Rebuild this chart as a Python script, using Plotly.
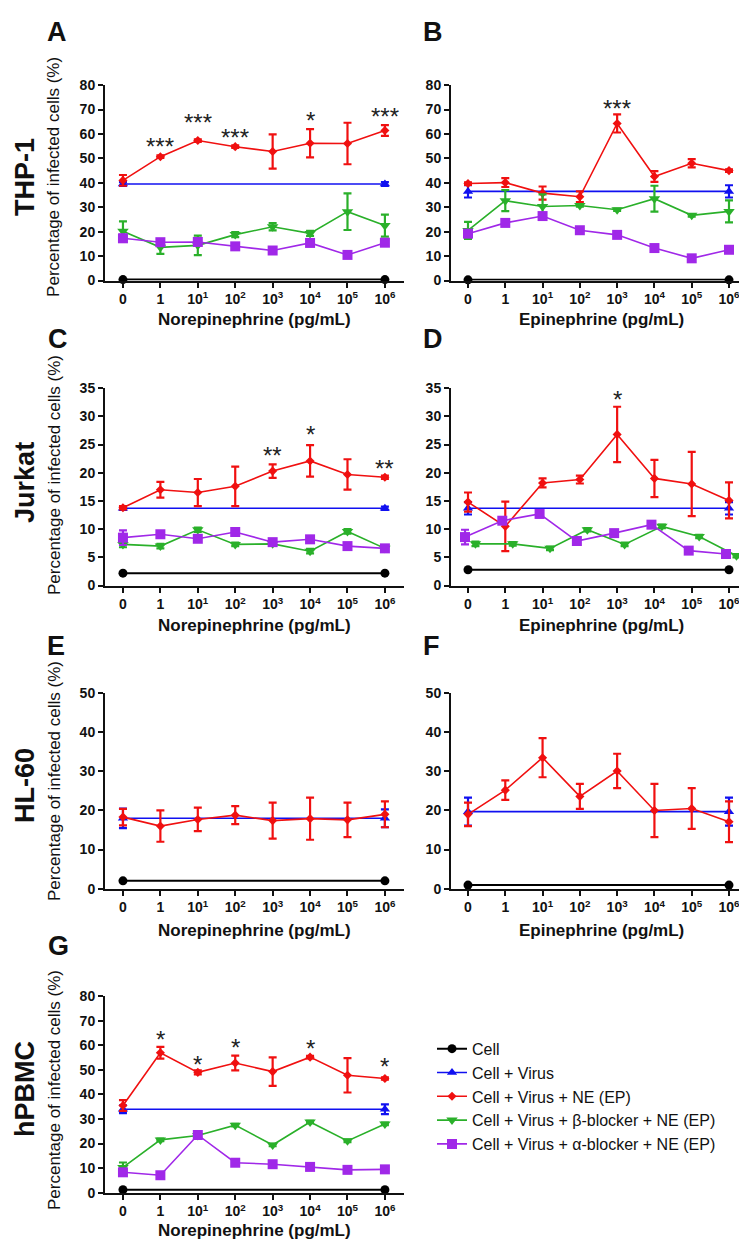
import plotly.graph_objects as go

# ---------------- data ----------------
X_LABELS = ["0", "1", "10<sup>1</sup>", "10<sup>2</sup>", "10<sup>3</sup>",
            "10<sup>4</sup>", "10<sup>5</sup>", "10<sup>6</sup>"]
X_IDX = [0, 1, 2, 3, 4, 5, 6, 7]
ENDS = [0, 7]

SERIES_NAMES = ["Cell", "Cell + Virus", "Cell + Virus + NE (EP)",
                "Cell + Virus + β-blocker + NE (EP)", "Cell + Virus + α-blocker + NE (EP)"]

# Panel A: THP-1, norepinephrine
A_cell = [0.4, 0.4]
A_virus = [39.5, 39.5]
A_virus_err = [0.8, 0.8]
A_ne = [41.0, 50.7, 57.3, 54.8, 52.8, 56.2, 56.1, 61.4]
A_ne_err = [2.2, 0.5, 0.5, 0.5, 7.0, 5.8, 8.5, 2.2]
A_beta = [20.2, 13.6, 14.4, 18.8, 22.0, 19.3, 28.2, 22.5]
A_beta_err = [4.0, 2.7, 4.0, 1.0, 1.5, 1.0, 7.5, 4.5]
A_alpha = [17.3, 15.7, 15.8, 14.0, 12.3, 15.4, 10.5, 15.5]
A_alpha_err = [1.5, 0.5, 0.5, 0.5, 0.5, 0.5, 0.5, 0.5]
A_star_x = [1, 2, 3, 5, 7]
A_star_y = [57.5, 67.0, 61.0, 68.0, 69.8]
A_star_txt = ["***", "***", "***", "*", "***"]

# Panel B: THP-1, epinephrine
B_cell = [0.3, 0.3]
B_virus = [36.5, 36.5]
B_virus_err = [2.5, 2.5]
B_ne = [39.7, 40.1, 35.8, 34.3, 64.3, 42.6, 48.0, 45.0]
B_ne_err = [0.5, 1.8, 2.7, 2.2, 3.7, 2.2, 1.7, 0.5]
B_beta = [20.5, 32.7, 30.3, 30.7, 29.0, 33.5, 26.7, 28.3]
B_beta_err = [3.5, 4.3, 5.0, 0.5, 0.5, 5.3, 0.5, 4.5]
B_alpha = [19.2, 23.6, 26.4, 20.6, 18.7, 13.3, 9.1, 12.6]
B_alpha_err = [0.8, 0.5, 0.8, 0.5, 0.5, 0.5, 0.5, 0.5]
B_star_x = [4]
B_star_y = [73.0]
B_star_txt = ["***"]

# Panel C: Jurkat, norepinephrine
C_cell = [2.2, 2.2]
C_virus = [13.7, 13.7]
C_virus_err = [0.3, 0.3]
C_ne = [13.8, 17.0, 16.5, 17.6, 20.3, 22.1, 19.7, 19.2]
C_ne_err = [0.3, 1.4, 2.4, 3.5, 1.2, 2.8, 2.7, 0.3]
C_beta = [7.3, 7.0, 9.9, 7.3, 7.4, 6.1, 9.6, 6.6]
C_beta_err = [0.5, 0.4, 0.4, 0.3, 0.3, 0.4, 0.4, 0.3]
C_alpha = [8.5, 9.1, 8.3, 9.5, 7.7, 8.2, 7.0, 6.6]
C_alpha_err = [1.3, 0.3, 0.3, 0.3, 0.3, 0.3, 0.3, 0.3]
C_star_x = [4, 5, 7]
C_star_y = [24.1, 27.8, 21.8]
C_star_txt = ["**", "*", "**"]

# Panel D: Jurkat, epinephrine
D_cell = [2.8, 2.8]
D_virus = [13.7, 13.7]
D_virus_err = [1.1, 1.1]
D_ne = [14.8, 10.5, 18.2, 18.8, 26.8, 19.0, 18.0, 15.1]
D_ne_err = [1.7, 4.4, 0.8, 0.7, 4.9, 3.3, 5.7, 3.2]
D_beta = [7.4, 7.4, 6.6, 9.9, 7.3, 10.5, 8.7, 5.3]
D_beta_err = [0.4, 0.3, 0.3, 0.3, 0.3, 0.3, 0.3, 0.3]
D_alpha = [8.6, 11.5, 12.7, 7.9, 9.3, 10.8, 6.2, 5.6]
D_alpha_err = [1.3, 0.3, 0.3, 0.3, 0.3, 0.3, 0.3, 0.3]
D_star_x = [4]
D_star_y = [34.0]
D_star_txt = ["*"]

# Panel E: HL-60, norepinephrine
E_cell = [2.0, 2.0]
E_virus = [18.0, 18.0]
E_virus_err = [2.5, 2.3]
E_ne = [18.3, 16.0, 17.7, 18.8, 17.4, 17.9, 17.6, 19.0]
E_ne_err = [2.1, 4.0, 3.0, 2.3, 4.6, 5.4, 4.4, 3.3]

# Panel F: HL-60, epinephrine
F_cell = [0.9, 0.9]
F_virus = [19.7, 19.7]
F_virus_err = [3.6, 3.6]
F_ne = [19.0, 25.2, 33.5, 23.6, 30.1, 20.0, 20.5, 17.1]
F_ne_err = [3.0, 2.5, 5.0, 3.2, 4.4, 6.8, 5.2, 5.2]

# Panel G: hPBMC, norepinephrine
G_cell = [1.2, 1.2]
G_virus = [34.0, 34.0]
G_virus_err = [1.6, 2.0]
G_ne = [35.5, 57.0, 49.0, 52.8, 49.3, 55.2, 47.8, 46.5]
G_ne_err = [2.2, 2.4, 0.8, 3.0, 5.8, 0.5, 7.0, 0.5]
G_beta = [10.3, 21.5, 23.3, 27.5, 19.4, 28.8, 21.1, 28.0]
G_beta_err = [2.0, 0.5, 0.5, 0.5, 0.5, 0.5, 0.5, 0.5]
G_alpha = [8.3, 7.1, 23.5, 12.2, 11.6, 10.5, 9.3, 9.5]
G_alpha_err = [0.5, 0.5, 0.5, 0.5, 0.5, 0.5, 0.5, 0.5]
G_star_x = [1, 2, 3, 5, 7]
G_star_y = [65.0, 54.7, 61.7, 61.0, 53.9]
G_star_txt = ["*", "*", "*", "*", "*"]

ROW_LABELS = ["THP-1", "Jurkat", "HL-60", "hPBMC"]
NE_TITLE = "Norepinephrine (pg/mL)"
EP_TITLE = "Epinephrine (pg/mL)"
Y_TITLE = "Percentage of infected cells (%)"

# ---------------- style ----------------
W, H = 747, 1245
FONT = "Liberation Sans, Arial, Helvetica, sans-serif"
COL = {"cell": "#000000", "virus": "#1010F0", "ne": "#F01010",
       "beta": "#2AB02A", "alpha": "#A028E8"}
SYM = {"cell": "circle", "virus": "triangle-up", "ne": "diamond",
       "beta": "triangle-down", "alpha": "square"}
MSIZE = {"cell": 9, "virus": 9, "ne": 7, "beta": 10, "alpha": 10}
D_BETA_SHIFT = 0.2
D_ALPHA_SHIFT = -0.08
STAR_YSHIFT = -6

def px_x(p):
    return p / W

def px_y(p):
    return 1 - p / H

PANELS = {
    "A": dict(ax="", xd=(97, 396), yd=(70, 268), ymax=80, dt=10, xr=(-0.48, 7.51)),
    "B": dict(ax="2", xd=(443, 743), yd=(70, 268), ymax=80, dt=10, xr=(-0.456, 7.59)),
    "C": dict(ax="3", xd=(97, 396), yd=(377, 577), ymax=35, dt=5, xr=(-0.48, 7.51)),
    "D": dict(ax="4", xd=(443, 743), yd=(377, 577), ymax=35, dt=5, xr=(-0.456, 7.59)),
    "E": dict(ax="5", xd=(97, 396), yd=(686, 884), ymax=50, dt=10, xr=(-0.48, 7.51)),
    "F": dict(ax="6", xd=(443, 743), yd=(686, 884), ymax=50, dt=10, xr=(-0.456, 7.59)),
    "G": dict(ax="7", xd=(97, 396), yd=(993, 1192), ymax=80, dt=10, xr=(-0.48, 7.51)),
}

fig = go.Figure()
annotations = []

def add(panel, key, x, y, err, legend=False):
    a = PANELS[panel]["ax"]
    idx = list(COL).index(key)
    fig.add_trace(go.Scatter(
        x=x, y=y, mode="lines+markers", name=SERIES_NAMES[idx],
        xaxis="x" + a, yaxis="y" + a, showlegend=legend, legendgroup=key,
        line=dict(color=COL[key], width=2 if key == "cell" else 1.6),
        marker=dict(symbol=SYM[key], size=MSIZE[key], color=COL[key], line=dict(width=0)),
        error_y=None if err is None else dict(type="data", array=err, visible=True,
                                              color=COL[key], thickness=2.2, width=4),
        cliponaxis=False, hoverinfo="skip"))

def stars(panel, xs, ys, txt):
    a = PANELS[panel]["ax"]
    for sx, sy, st in zip(xs, ys, txt):
        annotations.append(dict(
            x=sx, y=sy, text=st, xref="x" + a, yref="y" + a, showarrow=False,
            xanchor="center", yanchor="middle", yshift=STAR_YSHIFT,
            font=dict(family=FONT, size=24, color="#222222")))

shift = lambda s: [i + s for i in X_IDX]

add("A", "cell", ENDS, A_cell, None)
add("A", "virus", ENDS, A_virus, A_virus_err)
add("A", "ne", X_IDX, A_ne, A_ne_err)
add("A", "beta", X_IDX, A_beta, A_beta_err)
add("A", "alpha", X_IDX, A_alpha, A_alpha_err)
stars("A", A_star_x, A_star_y, A_star_txt)

add("B", "cell", ENDS, B_cell, None)
add("B", "virus", ENDS, B_virus, B_virus_err)
add("B", "ne", X_IDX, B_ne, B_ne_err)
add("B", "beta", X_IDX, B_beta, B_beta_err)
add("B", "alpha", X_IDX, B_alpha, B_alpha_err)
stars("B", B_star_x, B_star_y, B_star_txt)

add("C", "cell", ENDS, C_cell, None)
add("C", "virus", ENDS, C_virus, C_virus_err)
add("C", "ne", X_IDX, C_ne, C_ne_err)
add("C", "beta", X_IDX, C_beta, C_beta_err)
add("C", "alpha", X_IDX, C_alpha, C_alpha_err)
stars("C", C_star_x, C_star_y, C_star_txt)

add("D", "cell", ENDS, D_cell, None)
add("D", "virus", ENDS, D_virus, D_virus_err)
add("D", "ne", X_IDX, D_ne, D_ne_err)
add("D", "beta", shift(D_BETA_SHIFT), D_beta, D_beta_err)
add("D", "alpha", shift(D_ALPHA_SHIFT), D_alpha, D_alpha_err)
stars("D", D_star_x, D_star_y, D_star_txt)

add("E", "cell", ENDS, E_cell, None)
add("E", "virus", ENDS, E_virus, E_virus_err)
add("E", "ne", X_IDX, E_ne, E_ne_err)

add("F", "cell", ENDS, F_cell, None)
add("F", "virus", ENDS, F_virus, F_virus_err)
add("F", "ne", X_IDX, F_ne, F_ne_err)

add("G", "cell", ENDS, G_cell, None, True)
add("G", "virus", ENDS, G_virus, G_virus_err, True)
add("G", "ne", X_IDX, G_ne, G_ne_err, True)
add("G", "beta", X_IDX, G_beta, G_beta_err, True)
add("G", "alpha", X_IDX, G_alpha, G_alpha_err, True)
stars("G", G_star_x, G_star_y, G_star_txt)

layout = dict(
    width=W, height=H, margin=dict(l=0, r=0, t=0, b=0),
    plot_bgcolor="white", paper_bgcolor="white",
    font=dict(family=FONT, color="#111111"),
    showlegend=True,
    legend=dict(x=px_x(424), y=px_y(1029), xanchor="left", yanchor="top",
                font=dict(family=FONT, size=16, color="#111111"),
                bgcolor="rgba(0,0,0,0)", tracegroupgap=0, itemwidth=30),
)

axis_common = dict(showline=True, linecolor="#111111", linewidth=2, ticks="outside",
                   tickcolor="#111111", tickwidth=2, ticklen=5, showgrid=False,
                   zeroline=False, fixedrange=True)

for name, p in PANELS.items():
    a = p["ax"]
    layout["xaxis" + a] = dict(
        axis_common, domain=[px_x(p["xd"][0]), px_x(p["xd"][1])], range=list(p["xr"]),
        anchor="y" + a, tickmode="array", tickvals=X_IDX,
        ticktext=["<b>%s</b>" % t for t in X_LABELS],
        tickfont=dict(family=FONT, size=14, color="#111111"))
    layout["yaxis" + a] = dict(
        axis_common, domain=[px_y(p["yd"][1]), px_y(p["yd"][0])], range=[0, p["ymax"]],
        anchor="x" + a, tick0=0, dtick=p["dt"],
        tickfont=dict(family=FONT, size=14, color="#111111", weight="bold"))

LETTER_POS = {"A": (49, 16), "B": (425, 16), "C": (50, 327), "D": (425, 327),
              "E": (48, 638), "F": (424, 638), "G": (50, 942)}
for k, (lx, ly) in LETTER_POS.items():
    annotations.append(dict(text="<b>%s</b>" % k, x=px_x(lx), y=px_y(ly), xref="paper",
                            yref="paper", showarrow=False, xanchor="center", yanchor="middle",
                            font=dict(family=FONT, size=27, color="#111111")))

ROW_POS = [163, 473, 780, 1087]
YT_POS = [163, 465, 775, 1088]
for lab, ry, yt in zip(ROW_LABELS, ROW_POS, YT_POS):
    annotations.append(dict(text="<b>%s</b>" % lab, x=px_x(17), y=px_y(ry), xref="paper",
                            yref="paper", showarrow=False, textangle=-90,
                            xanchor="center", yanchor="middle",
                            font=dict(family=FONT, size=27, color="#111111")))
    annotations.append(dict(text=Y_TITLE, x=px_x(46), y=px_y(yt), xref="paper",
                            yref="paper", showarrow=False, textangle=-90,
                            xanchor="center", yanchor="middle",
                            font=dict(family=FONT, size=17, color="#111111")))

XT = [("A", NE_TITLE, 307), ("B", EP_TITLE, 307), ("C", NE_TITLE, 617), ("D", EP_TITLE, 617),
      ("E", NE_TITLE, 926), ("F", EP_TITLE, 926), ("G", NE_TITLE, 1230)]
for k, t, ty in XT:
    p = PANELS[k]
    annotations.append(dict(text="<b>%s</b>" % t, x=px_x((p["xd"][0] + p["xd"][1]) / 2),
                            y=px_y(ty), xref="paper", yref="paper", showarrow=False,
                            xanchor="center", yanchor="middle",
                            font=dict(family=FONT, size=17, color="#111111")))

layout["annotations"] = annotations
fig.update_layout(**layout)
fig.write_html("out.html")
